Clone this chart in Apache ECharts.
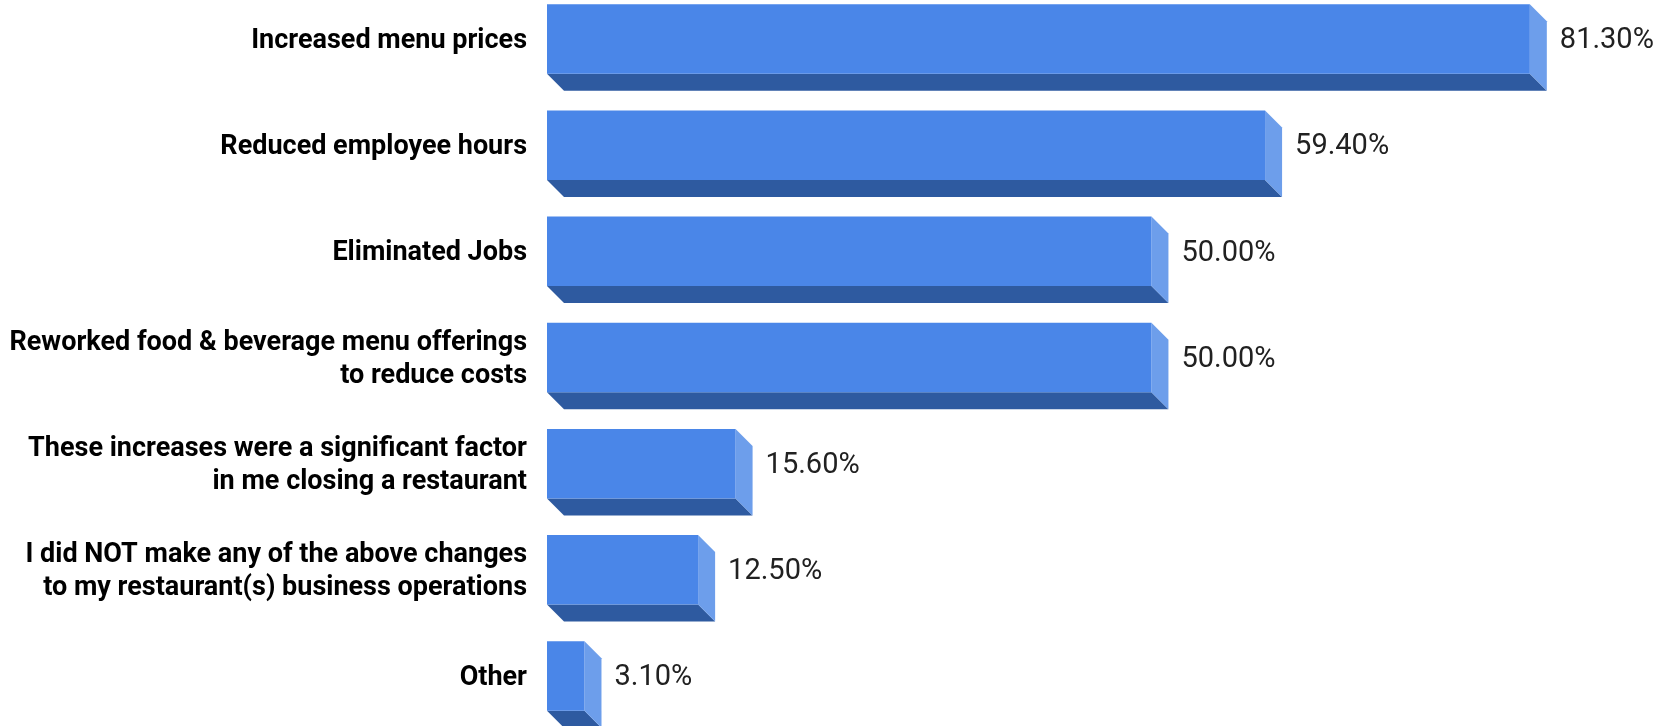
<!DOCTYPE html>
<html>
<head>
<meta charset="utf-8">
<title>Restaurant responses to cost increases</title>
<script src="https://cdn.jsdelivr.net/npm/echarts@6/dist/echarts.min.js"></script>
<style>
  html, body { margin: 0; padding: 0; background: #ffffff; }
  #chart { width: 1673px; height: 726px; }
</style>
</head>
<body>
<div id="chart"></div>
<script>
// Responses, top to bottom
const categories = [
  'Increased menu prices',
  'Reduced employee hours',
  'Eliminated Jobs',
  'Reworked food & beverage menu offerings\nto reduce costs',
  'These increases were a significant factor\nin me closing a restaurant',
  'I did NOT make any of the above changes\nto my restaurant(s) business operations',
  'Other'
];
// Share of respondents, percent
const percentages = [81.3, 59.4, 50.0, 50.0, 15.6, 12.5, 3.1];

const FRONT = '#4a86e8';
const SIDE = '#6d9eeb';
const BOTTOM = '#2e5aa0';
const DEPTH = 17;

const chart = echarts.init(document.getElementById('chart'), null, { renderer: 'canvas' });

function renderBar(params, api) {
  const idx = api.value(0);
  const val = api.value(1);
  const start = api.coord([0, idx]);
  const end = api.coord([val, idx]);
  // distance between neighbouring category centres
  const step = Math.abs(api.coord([0, 1])[1] - api.coord([0, 0])[1]);
  const h = step * 0.655;
  const x0 = start[0];
  const x1 = end[0];
  const top = end[1] - h / 2;
  const bot = top + h;
  return {
    type: 'group',
    children: [
      {
        type: 'polygon',
        shape: { points: [[x0, bot], [x1, bot], [x1 + DEPTH, bot + DEPTH], [x0 + DEPTH, bot + DEPTH]] },
        style: { fill: BOTTOM }
      },
      {
        type: 'polygon',
        shape: { points: [[x1, top], [x1 + DEPTH, top + DEPTH], [x1 + DEPTH, bot + DEPTH], [x1, bot]] },
        style: { fill: SIDE }
      },
      {
        type: 'rect',
        shape: { x: x0, y: top, width: x1 - x0, height: h },
        style: { fill: FRONT }
      },
      {
        type: 'text',
        style: {
          x: x1 + DEPTH + 13,
          y: end[1] + 2,
          text: val.toFixed(2) + '%',
          fill: '#212121',
          font: '29px Roboto',
          verticalAlign: 'middle',
          align: 'left'
        }
      }
    ]
  };
}

chart.setOption({
  animation: false,
  backgroundColor: '#ffffff',
  grid: { left: 547, top: 39, height: 637, width: 1088 },
  xAxis: {
    type: 'value',
    min: 0,
    max: 90,
    show: false
  },
  yAxis: {
    type: 'category',
    inverse: true,
    boundaryGap: false,
    data: categories,
    axisLine: { show: false },
    axisTick: { show: false },
    splitLine: { show: false },
    axisLabel: {
      margin: 20,
      fontFamily: 'Roboto',
      fontWeight: 'bold',
      fontSize: 27,
      lineHeight: 33,
      color: '#000000',
      align: 'right',
      // a thin spacer line above each label nudges the text block down a little
      formatter: (value) => '{gap| }\n' + value,
      rich: {
        gap: { fontSize: 1, lineHeight: 4 }
      }
    }
  },
  series: [{
    type: 'custom',
    renderItem: renderBar,
    clip: false,
    encode: { x: 1, y: 0 },
    data: percentages.map((v, i) => [i, v])
  }]
});
</script>
</body>
</html>
